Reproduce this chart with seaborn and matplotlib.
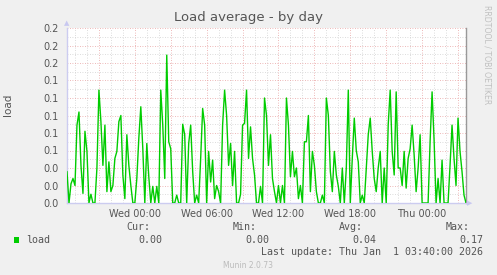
import matplotlib
matplotlib.use("Agg")
import matplotlib.pyplot as plt
import matplotlib.dates as mdates
from matplotlib.ticker import MultipleLocator, FuncFormatter
from matplotlib.patches import Rectangle
import numpy as np
import pandas as pd
import seaborn as sns

# ---- data (load, 10-minute samples) ----
start_time = "2025-12-30 18:20"
step = "10min"
load_centi = [
    3.6, 0, 2.2, 2.8, 2, 8.9, 10.4, 4.3, 1.1, 8.2, 5.9, 0, 1, 0, 0, 4, 12.9, 9.3, 4.3, 8.9,
    1.3, 4.7, 1.3, 2, 5.1, 5.9, 9.3, 10, 3.2, 0.5, 7.8, 4.3, 2, 0, 0, 2.8, 7.4, 11, 6.2, 0,
    6.8, 3, 0, 1.9, 0, 1.9, 0, 12.9, 8.9, 2.8, 16.9, 7, 6.2, 0, 0, 0.9, 0, 0, 9, 7.8,
    0, 6.8, 8.9, 3.6, 0, 0.9, 0, 5.1, 10.8, 8.9, 0, 5.9, 2.4, 4.9, 0.5, 2, 1.3, 0, 8.9, 12.9,
    10, 4.3, 6.8, 2, 5.9, 0, 0, 1, 8.9, 9.1, 12.9, 5.1, 8.7, 5.1, 3.2, 0, 0, 1.9, 0, 12,
    10, 4.3, 7.8, 2.8, 1.3, 0, 2, 0, 2, 0, 12, 8.9, 3, 5.9, 3, 4, 0.5, 2, 0, 7,
    7, 10, 1.3, 5.9, 4.3, 1.3, 0, 0, 0.9, 0, 12, 10, 3.6, 1.3, 5.9, 3.2, 1.9, 0, 4, 0,
    4, 12.9, 0, 5.1, 9.7, 6, 4.7, 0, 0.9, 0, 4, 7.8, 9.7, 5.9, 2.8, 1.3, 4, 5.9, 0, 4,
    0, 8.9, 12.9, 5.9, 3.2, 12.7, 4, 4, 2, 5.9, 1.7, 5.1, 6.2, 8.9, 5.5, 1.3, 4, 7.8, 0, 0,
    0, 0, 7, 12.7, 7.2, 0, 2.8, 0, 4.9, 0, 0, 0, 4.3, 8.9, 5.1, 2, 9.7, 5.9, 3.6, 0.9,
    0,
]
y_ticks = [0.0, 0.02, 0.04, 0.06, 0.08, 0.10, 0.12, 0.14, 0.16, 0.18, 0.20]
legend_name = "load"
stats_labels = ["Cur:", "Min:", "Avg:", "Max:"]
stats_values = ["0.00", "0.00", "0.04", "0.17"]
last_update = "Last update: Thu Jan  1 03:40:00 2026"
title = "Load average - by day"

times = pd.date_range(start_time, periods=len(load_centi), freq=step)
df = pd.DataFrame({"time": times, "load": np.array(load_centi) / 100.0})

# ---- figure ----
W, H = 497, 275
sns.set_style("white")
plt.rcParams["font.family"] = ["DejaVu Sans"]
fig = plt.figure(figsize=(W / 100, H / 100), dpi=100, facecolor="#F0F0F0")

def fx(px):
    return px / W

def fy(py):
    return 1 - py / H

L, R, T, B = 67, 466, 28, 203
ax = fig.add_axes([fx(L), fy(B), fx(R) - fx(L), fy(T) - fy(B)])
ax.set_facecolor("white")

sns.lineplot(data=df, x="time", y="load", ax=ax, color="#00CC00", linewidth=1.0, zorder=3)

ax.set_xlim(times[0], times[-1])
ax.set_ylim(0, 0.2)

# y ticks
ax.set_yticks(y_ticks)
ax.yaxis.set_major_formatter(FuncFormatter(lambda v, p: f"{v:.1f}"))
ax.yaxis.set_minor_locator(MultipleLocator(0.01))

# x ticks
ax.xaxis.set_major_locator(mdates.HourLocator(byhour=range(0, 24, 3)))
ax.xaxis.set_minor_locator(mdates.HourLocator())

def xfmt(v, p):
    d = mdates.num2date(v)
    if d.hour % 6 == 0 and d.minute == 0:
        return d.strftime("%a %H:%M")
    return ""

ax.xaxis.set_major_formatter(FuncFormatter(xfmt))

ax.grid(which="major", color="#E8A0A0", linestyle=(0, (1, 2)), linewidth=0.6, zorder=1)
ax.grid(which="minor", color="#D0D0D0", linestyle=(0, (1, 2)), linewidth=0.6, zorder=1)
ax.set_axisbelow(True)

ax.tick_params(axis="both", which="both", length=0, colors="#555555", labelsize=7)
ax.tick_params(axis="y", pad=6)
ax.tick_params(axis="x", pad=4)
ax.set_xlabel("")
ax.set_ylabel("")

ax.spines["top"].set_visible(False)
ax.spines["right"].set_color("#999999")
ax.spines["right"].set_linewidth(1.0)
ax.spines["left"].set_color("#CCCCF0")
ax.spines["bottom"].set_color("#CCCCF0")
ax.spines["left"].set_linewidth(1.0)
ax.spines["bottom"].set_linewidth(1.0)

# axis arrows
fig.text(fx(67), fy(23), "\u25B2", color="#C8C8F0", fontsize=5, ha="center", va="center")
fig.text(fx(470), fy(203), "\u25B6", color="#C8C8F0", fontsize=5, ha="center", va="center")

# title and side texts
fig.text(fx(248), fy(18), title, color="#555555", fontsize=9.5, ha="center", va="center")
fig.text(fx(8), fy(105), "load", color="#555555", fontsize=7.5, rotation=90, ha="center", va="center")
fig.text(fx(487), fy(5), "RRDTOOL / TOBI OETIKER", color="#C0C0C0", fontsize=5.6,
         rotation=270, ha="center", va="top")

# legend / stats
mono = dict(family="DejaVu Sans Mono", fontsize=7.2, color="#555555", va="center")
fig.patches.append(Rectangle((fx(14), fy(242.5)), fx(5.3), 5.3 / H, transform=fig.transFigure,
                             facecolor="#00CC00", edgecolor="none"))
fig.text(fx(26), fy(240), legend_name, ha="left", **mono)
label_right = [150, 257, 363, 470]
value_right = [162, 269, 376, 483]
for lab, val, lr, vr in zip(stats_labels, stats_values, label_right, value_right):
    fig.text(fx(lr), fy(227), lab, ha="right", **mono)
    fig.text(fx(vr), fy(240), val, ha="right", **mono)
fig.text(fx(483), fy(252), last_update, ha="right", **mono)
fig.text(fx(248), fy(265), "Munin 2.0.73", color="#BBBBBB", fontsize=5.5, ha="center", va="center")

fig.savefig("out.png", dpi=100, facecolor=fig.get_facecolor())
